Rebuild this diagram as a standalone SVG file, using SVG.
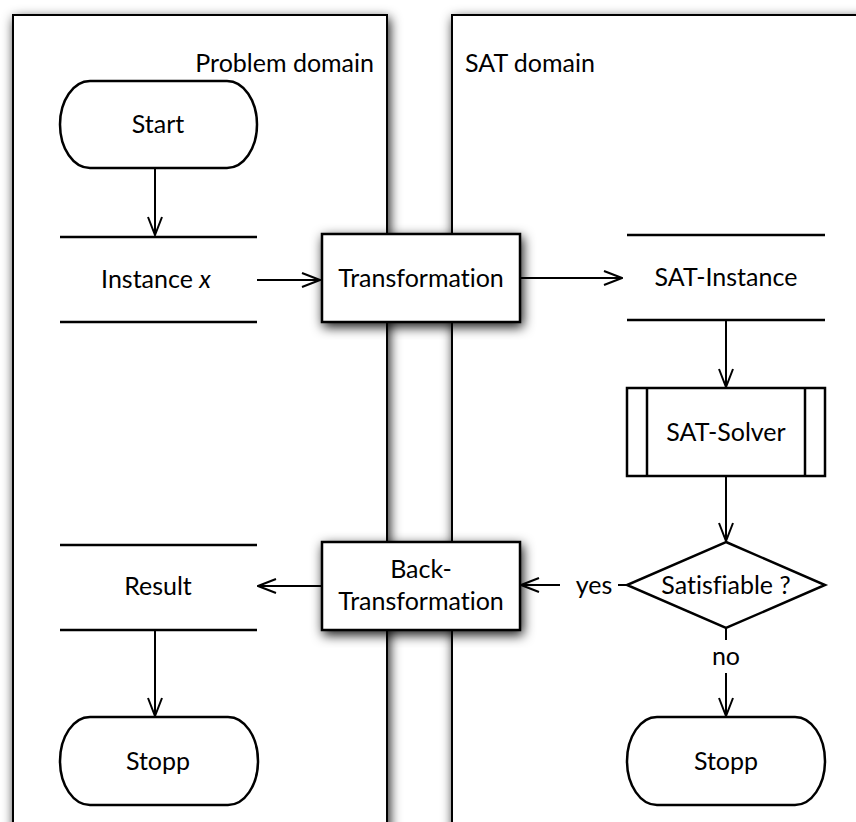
<svg xmlns="http://www.w3.org/2000/svg" width="856" height="822" viewBox="0 0 856 822">
  <defs>
    <filter id="shadow" x="-20%" y="-20%" width="140%" height="140%">
      <feDropShadow dx="2" dy="4" stdDeviation="6" flood-color="#000" flood-opacity="0.9"/>
    </filter>
    <marker id="arrow" viewBox="0 0 20 16" refX="19" refY="8" markerWidth="20" markerHeight="16" markerUnits="userSpaceOnUse" orient="auto">
      <path d="M1,1 L19,8 L1,15" fill="none" stroke="#000" stroke-width="2"/>
    </marker>
  </defs>
  <style>
    text { font-family: "Lato", "Open Sans", sans-serif; font-size: 25px; fill: #000; font-variant-ligatures: none; }
    .lbl { text-anchor: middle; }
    .lane { fill: #fff; stroke: #000; stroke-width: 2; filter: url(#shadow); }
    .box { fill: #fff; stroke: #000; stroke-width: 2.5; }
    .shadowed { filter: url(#shadow); }
    .store { stroke: #000; stroke-width: 2.5; }
    .edge { fill: none; stroke: #000; stroke-width: 2; }
  </style>
  <rect width="856" height="822" fill="#fff"/>

  <!-- swimlanes -->
  <g id="lane-problem">
    <rect class="lane" x="13" y="15" width="374" height="900"/>
    <text x="374" y="72" text-anchor="end">Problem domain</text>
  </g>
  <g id="lane-sat">
    <rect class="lane" x="452" y="15" width="440" height="900"/>
    <text x="465" y="72">SAT domain</text>
  </g>

  <!-- nodes -->
  <g id="start">
    <rect class="box" x="60" y="81" width="197" height="87" rx="30" ry="43.5"/>
    <text class="lbl" x="158" y="133">Start</text>
  </g>
  <g id="instance-x">
    <line class="store" x1="60" y1="237" x2="257" y2="237"/>
    <line class="store" x1="60" y1="322" x2="257" y2="322"/>
    <text class="lbl" x="156" y="288">Instance <tspan font-style="italic">x</tspan></text>
  </g>
  <g id="transformation">
    <rect class="box shadowed" x="322" y="234" width="198" height="88"/>
    <text class="lbl" x="421" y="287">Transformation</text>
  </g>
  <g id="sat-instance">
    <line class="store" x1="627" y1="235" x2="825" y2="235"/>
    <line class="store" x1="627" y1="320" x2="825" y2="320"/>
    <text class="lbl" x="726" y="286">SAT-Instance</text>
  </g>
  <g id="sat-solver">
    <rect class="box" x="627" y="388" width="198" height="88"/>
    <line class="store" x1="647" y1="388" x2="647" y2="476"/>
    <line class="store" x1="805" y1="388" x2="805" y2="476"/>
    <text class="lbl" x="726" y="441">SAT-Solver</text>
  </g>
  <g id="satisfiable">
    <polygon class="box" points="726,542 825,585 726,628 627,585"/>
    <text class="lbl" x="726" y="594">Satisfiable ?</text>
  </g>
  <g id="back-transformation">
    <rect class="box shadowed" x="322" y="542" width="198" height="88"/>
    <text class="lbl" x="421" y="578">Back-</text>
    <text class="lbl" x="421" y="610">Transformation</text>
  </g>
  <g id="result">
    <line class="store" x1="60" y1="545" x2="257" y2="545"/>
    <line class="store" x1="60" y1="630" x2="257" y2="630"/>
    <text class="lbl" x="158" y="595">Result</text>
  </g>
  <g id="stopp-left">
    <rect class="box" x="60" y="717" width="198" height="88" rx="30" ry="44"/>
    <text class="lbl" x="158" y="770">Stopp</text>
  </g>
  <g id="stopp-right">
    <rect class="box" x="627" y="717" width="198" height="88" rx="30" ry="44"/>
    <text class="lbl" x="726" y="770">Stopp</text>
  </g>

  <!-- connectors -->
  <g id="connectors">
    <line class="edge" x1="155" y1="168" x2="155" y2="235" marker-end="url(#arrow)"/>
    <line class="edge" x1="257" y1="280" x2="320" y2="280" marker-end="url(#arrow)"/>
    <line class="edge" x1="520" y1="278" x2="622" y2="278" marker-end="url(#arrow)"/>
    <line class="edge" x1="726" y1="320" x2="726" y2="387" marker-end="url(#arrow)"/>
    <line class="edge" x1="726" y1="476" x2="726" y2="541" marker-end="url(#arrow)"/>
    <line class="edge" x1="627" y1="585" x2="618" y2="585"/>
    <text class="lbl" x="594" y="594">yes</text>
    <line class="edge" x1="560" y1="585" x2="521" y2="585" marker-end="url(#arrow)"/>
    <line class="edge" x1="322" y1="586" x2="258" y2="586" marker-end="url(#arrow)"/>
    <line class="edge" x1="155" y1="630" x2="155" y2="716" marker-end="url(#arrow)"/>
    <line class="edge" x1="726" y1="628" x2="726" y2="640"/>
    <text class="lbl" x="726" y="665">no</text>
    <line class="edge" x1="726" y1="673" x2="726" y2="716" marker-end="url(#arrow)"/>
  </g>
</svg>
